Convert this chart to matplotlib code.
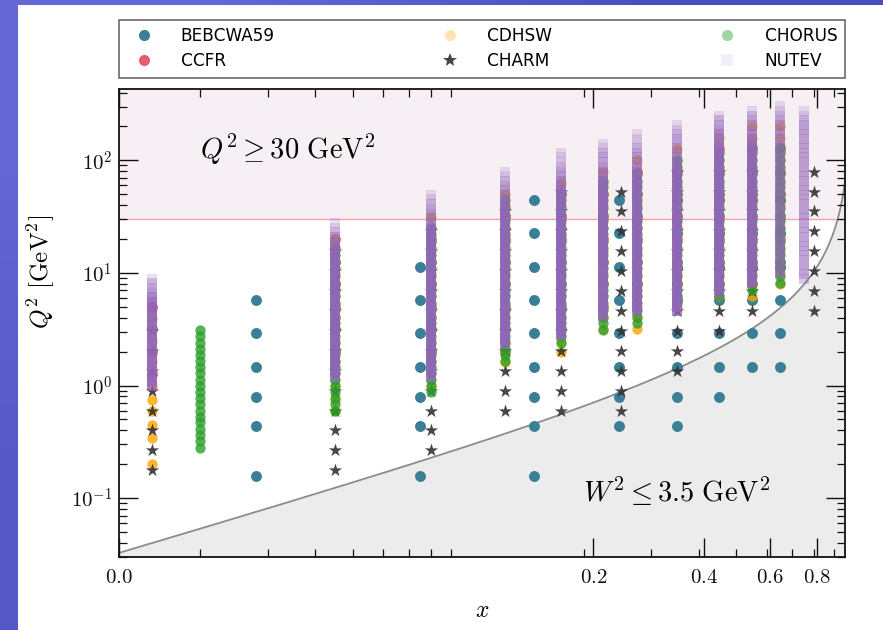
import numpy as np
import matplotlib
matplotlib.use("Agg")
import matplotlib.pyplot as plt
from matplotlib.lines import Line2D
from matplotlib.patches import Rectangle
from matplotlib.ticker import FixedLocator, FixedFormatter, LogLocator, NullFormatter

plt.rcParams["mathtext.fontset"] = "cm"

# ---------------------------------------------------------------- cuts
Q2_CUT = 30.0          # GeV^2
W2_CUT = 3.5           # GeV^2
M_PROTON = 0.938       # GeV

# ---------------------------------------------------------------- axes
x_lim = (0.0123, 0.961)
y_lim = (0.03, 430.0)
x_tick_offsets = [0.0, 0.2, 0.4, 0.6, 0.8]
y_tick_values = [0.1, 1.0, 10.0, 100.0]
y_tick_labels = [r"$10^{-1}$", r"$10^{0}$", r"$10^{1}$", r"$10^{2}$"]

# ---------------------------------------------------------------- BEBCWA59
bebc_x = [0.028, 0.075, 0.149, 0.248, 0.35, 0.45, 0.55, 0.65]
bebc_q2 = [
    [0.157, 0.435, 0.785, 1.45, 2.93, 5.77],
    [0.157, 0.435, 0.785, 1.45, 2.93, 5.77, 11.4],
    [0.157, 0.435, 0.785, 1.45, 2.93, 5.77, 11.4, 22.6, 44.5],
    [0.435, 0.785, 1.45, 2.93, 5.77, 11.4, 22.6, 44.5],
    [0.435, 0.785, 1.45, 2.93, 5.77, 11.4, 22.6, 44.5],
    [0.785, 1.45, 2.93, 5.77, 11.4, 22.6, 44.5],
    [1.45, 2.93, 5.77, 11.4, 22.6, 44.5],
    [1.45, 2.93, 5.77, 11.4, 22.6, 44.5],
]

# ---------------------------------------------------------------- CCFR
ccfr_x = [0.015, 0.045, 0.08, 0.125, 0.175, 0.225, 0.275, 0.35, 0.45, 0.55, 0.65]
ccfr_q2 = [
    [1.26, 2.0, 3.16, 5.01],
    [2.0, 3.16, 5.01, 7.94, 12.6, 20.0],
    [2.0, 3.16, 5.01, 7.94, 12.6, 20.0],
    [2.0, 3.16, 5.01, 7.94, 12.6, 20.0, 31.6],
    [3.16, 5.01, 7.94, 12.6, 20.0, 31.6, 50.1],
    [5.01, 7.94, 12.6, 20.0, 31.6, 50.1],
    [7.94, 12.6, 20.0, 31.6, 50.1, 79.4],
    [7.94, 12.6, 20.0, 31.6, 50.1, 79.4],
    [7.94, 12.6, 20.0, 31.6, 50.1, 79.4, 126.0],
    [7.94, 12.6, 20.0, 31.6, 50.1, 79.4, 126.0],
    [12.6, 20.0, 31.6, 50.1, 79.4, 126.0],
]

# ---------------------------------------------------------------- CDHSW
cdhsw_levels = [0.2, 0.34, 0.45, 0.6, 0.74, 1.0, 1.3, 1.63, 2.0, 2.5, 3.2, 4.0,
                5.0, 6.3, 7.9, 10.0, 12.6, 15.8, 20.0, 25.0, 31.6, 40.0, 50.0,
                63.0, 79.0, 100.0, 126.0, 158.0, 200.0]
cdhsw_x = [0.015, 0.045, 0.08, 0.125, 0.175, 0.225, 0.275, 0.35, 0.45, 0.55, 0.65]
cdhsw_bins = [(0, 11), (3, 18), (5, 20), (7, 22), (8, 23), (10, 24), (10, 25),
              (12, 26), (13, 27), (13, 28), (14, 28)]

# ---------------------------------------------------------------- CHARM
charm_levels = [0.178, 0.267, 0.40, 0.60, 0.90, 1.35, 2.03, 3.05, 4.58, 6.89,
                10.3, 15.6, 23.4, 35.2, 51.8, 79.4]
charm_x = [0.015, 0.045, 0.08, 0.125, 0.175, 0.25, 0.35, 0.45, 0.55, 0.80]
charm_bins = [(0, 7), (0, 11), (1, 12), (3, 13), (3, 14), (3, 14), (5, 15),
              (7, 15), (8, 15), (8, 15)]

# ---------------------------------------------------------------- CHORUS
chorus_levels = [0.28, 0.32, 0.36, 0.41, 0.47, 0.53, 0.6, 0.68, 0.77, 0.87,
                 1.0, 1.13, 1.28, 1.45, 1.65, 1.87, 2.1, 2.4, 2.75, 3.1, 3.6,
                 4.1, 4.7, 5.4, 6.2, 7.1, 8.2, 9.4, 11.0, 12.5, 14.5, 16.5,
                 19.0, 22.0, 25.0, 29.0, 33.0, 38.0, 44.0, 50.0, 58.0, 66.0,
                 76.0, 87.0, 100.0, 115.0, 130.0]
chorus_x = [0.02, 0.045, 0.08, 0.125, 0.175, 0.225, 0.275, 0.35, 0.45, 0.55, 0.65]
chorus_bins = [(0, 19), (6, 31), (9, 34), (14, 38), (17, 39), (19, 41), (20, 42),
               (23, 44), (24, 45), (25, 46), (26, 46)]

# ---------------------------------------------------------------- NUTEV
nutev_levels = [0.90, 0.99, 1.09, 1.20, 1.32, 1.45, 1.60, 1.76, 1.93, 2.13,
                2.34, 2.57, 2.83, 3.11, 3.42, 3.77, 4.14, 4.56, 5.01, 5.51,
                6.07, 6.67, 7.34, 8.07, 8.88, 9.77, 10.7, 11.8, 13.0, 14.3,
                15.7, 17.3, 19.0, 20.9, 23.0, 25.3, 27.9, 30.6, 33.7, 37.1,
                40.8, 44.9, 49.4, 54.3, 59.7, 65.7, 72.3, 79.5, 87.5, 96.2,
                106.0, 116.0, 128.0, 141.0, 155.0, 170.0, 187.0, 206.0, 227.0,
                249.0, 274.0, 302.0, 332.0]
nutev_x = [0.015, 0.045, 0.08, 0.125, 0.175, 0.225, 0.275, 0.35, 0.45, 0.55, 0.65, 0.75]
nutev_q2_min = [0.99, 1.2, 1.15, 2.3, 2.8, 3.9, 4.4, 4.4, 6.5, 8.0, 9.5, 8.5]
# upper Q^2 reach of each beam-energy sample
nutev_q2_max = [
    [9.5, 8.1, 7.0, 6.4, 6.0, 5.8],
    [29.0, 25.0, 21.5, 19.0, 17.5, 16.5],
    [52.0, 43.0, 35.0, 30.0, 26.5, 24.5],
    [83.0, 68.0, 55.0, 47.0, 42.0, 39.0],
    [117.0, 95.0, 78.0, 66.0, 59.0, 55.0],
    [147.0, 120.0, 96.0, 80.0, 66.0, 59.0],
    [170.0, 140.0, 115.0, 95.0, 80.0, 72.0],
    [208.0, 170.0, 140.0, 115.0, 96.0, 86.0],
    [272.0, 230.0, 195.0, 170.0, 150.0, 138.0],
    [293.0, 250.0, 210.0, 180.0, 160.0, 147.0],
    [311.0, 260.0, 215.0],
    [280.0, 230.0],
]

# ---------------------------------------------------------------- styles
STYLE = {
    "BEBCWA59": dict(marker="o", color="#3b7f97", alpha=1.0, s=62),
    "CCFR": dict(marker="o", color="#e04d5e", alpha=0.9, s=62),
    "CDHSW": dict(marker="o", color="#ffa500", alpha=0.8, s=55),
    "CHARM": dict(marker="*", color="#333333", alpha=0.9, s=100),
    "CHORUS": dict(marker="o", color="#2ca02c", alpha=0.8, s=55),
    "NUTEV": dict(marker="s", color="#9467bd", alpha=0.2, s=50),
}
LEGEND_ALPHA = {"BEBCWA59": 1.0, "CCFR": 0.9, "CDHSW": 0.3, "CHARM": 0.9,
                "CHORUS": 0.45, "NUTEV": 0.1}


def columns_from_lists(xs, q2_lists):
    px, py = [], []
    for x, q2 in zip(xs, q2_lists):
        px += [x] * len(q2)
        py += list(q2)
    return px, py


def columns_from_bins(xs, levels, bins):
    px, py = [], []
    for x, (lo, hi) in zip(xs, bins):
        sel = levels[lo:hi + 1]
        px += [x] * len(sel)
        py += sel
    return px, py


def nutev_points():
    px, py = [], []
    for x, qmin, tops in zip(nutev_x, nutev_q2_min, nutev_q2_max):
        for qmax in tops:
            sel = [q for q in nutev_levels if qmin <= q <= qmax]
            px += [x] * len(sel)
            py += sel
    return px, py


datasets = {
    "BEBCWA59": columns_from_lists(bebc_x, bebc_q2),
    "CCFR": columns_from_lists(ccfr_x, ccfr_q2),
    "CDHSW": columns_from_bins(cdhsw_x, cdhsw_levels, cdhsw_bins),
    "CHARM": columns_from_bins(charm_x, charm_levels, charm_bins),
    "CHORUS": columns_from_bins(chorus_x, chorus_levels, chorus_bins),
    "NUTEV": nutev_points(),
}

# ---------------------------------------------------------------- figure
fig = plt.figure(figsize=(8.83, 6.30), dpi=100)

# slide backdrop with a white page on top
bg = fig.add_axes([0, 0, 1, 1], zorder=-10)
corners = np.array([[[0.40, 0.40, 0.84], [0.30, 0.30, 0.74]],
                    [[0.34, 0.34, 0.78], [0.27, 0.27, 0.70]]])
bg.imshow(corners, extent=[0, 1, 0, 1], aspect="auto", interpolation="bilinear")
bg.set_axis_off()
fig.add_artist(Rectangle((18 / 883, 0), 1 - 18 / 883, 1 - 5 / 630,
                         transform=fig.transFigure, facecolor="white",
                         edgecolor="none", zorder=-5))

ax = fig.add_axes([119 / 883, 73 / 630, 726 / 883, 468 / 630])
ax.set_xscale("log")
ax.set_yscale("log")
ax.set_xlim(*x_lim)
ax.set_ylim(*y_lim)

# high-Q^2 band
ax.axhspan(Q2_CUT, y_lim[1], facecolor="#f6eff3", edgecolor="none", zorder=0.3)
ax.axhline(Q2_CUT, color="#eba6b2", lw=1.0, zorder=0.6)

# low-W^2 region, Q^2 = (W^2 - M^2) x / (1 - x)
xc = np.geomspace(x_lim[0], x_lim[1], 500)
q2c = (W2_CUT - M_PROTON ** 2) * xc / (1.0 - xc)
ax.fill_between(xc, y_lim[0], q2c, facecolor="#ececec", edgecolor="none", zorder=0.5)
ax.plot(xc, q2c, color="#8c8c8c", lw=1.3, zorder=0.7)

handles = []
for i, (name, (px, py)) in enumerate(datasets.items()):
    st = STYLE[name]
    ax.scatter(px, py, marker=st["marker"], c=st["color"], alpha=st["alpha"],
               s=st["s"], linewidths=0, zorder=2 + i)
    handles.append(Line2D([], [], linestyle="none", marker=st["marker"],
                          markerfacecolor=st["color"], markeredgewidth=0,
                          alpha=LEGEND_ALPHA[name],
                          markersize=10 if st["marker"] == "*" else 8,
                          label=name))

ax.text(0.112, 0.870, rf"$Q^2 \geq {Q2_CUT:g}\ \mathrm{{GeV}}^2$",
        transform=ax.transAxes, fontsize=20.5, va="center", ha="left", zorder=20)
ax.text(0.639, 0.139, rf"$W^2 \leq {W2_CUT:g}\ \mathrm{{GeV}}^2$",
        transform=ax.transAxes, fontsize=20.5, va="center", ha="left", zorder=20)

# ticks
x_ticks = [x_lim[0] + v for v in x_tick_offsets]
ax.xaxis.set_major_locator(FixedLocator(x_ticks))
ax.xaxis.set_major_formatter(FixedFormatter([f"${v:.1f}$" for v in x_tick_offsets]))
ax.xaxis.set_minor_locator(LogLocator(base=10, subs=np.arange(2, 10)))
ax.xaxis.set_minor_formatter(NullFormatter())
ax.yaxis.set_major_locator(FixedLocator(y_tick_values))
ax.yaxis.set_major_formatter(FixedFormatter(y_tick_labels))
ax.yaxis.set_minor_locator(LogLocator(base=10, subs=np.arange(2, 10)))
ax.yaxis.set_minor_formatter(NullFormatter())
ax.tick_params(which="both", direction="in", top=True, right=True, colors="#111111")
ax.tick_params(which="major", length=13.5, width=1.0, labelsize=15)
ax.tick_params(axis="x", which="major", pad=7)
ax.tick_params(axis="y", which="major", pad=5)
ax.tick_params(which="minor", length=6, width=0.9)
for sp in ax.spines.values():
    sp.set_linewidth(1.3)
    sp.set_color("#111111")

ax.set_xlabel(r"$x$", fontsize=17, labelpad=8)
ax.set_ylabel(r"$Q^2\ [\mathrm{GeV}^2]$", fontsize=18)
ax.yaxis.set_label_coords(-0.086, 0.61)

leg = ax.legend(handles=handles, ncol=3, mode="expand", loc="lower left",
                bbox_to_anchor=(0.0, 1.0235, 1.0, 0.124), borderaxespad=0.0,
                frameon=True, fancybox=False, edgecolor="#444444",
                prop=dict(family="DejaVu Sans", size=12.2),
                handletextpad=1.2, labelspacing=0.42, borderpad=0.45)
leg.get_frame().set_linewidth(1.2)

fig.savefig("out.png", dpi=100)
